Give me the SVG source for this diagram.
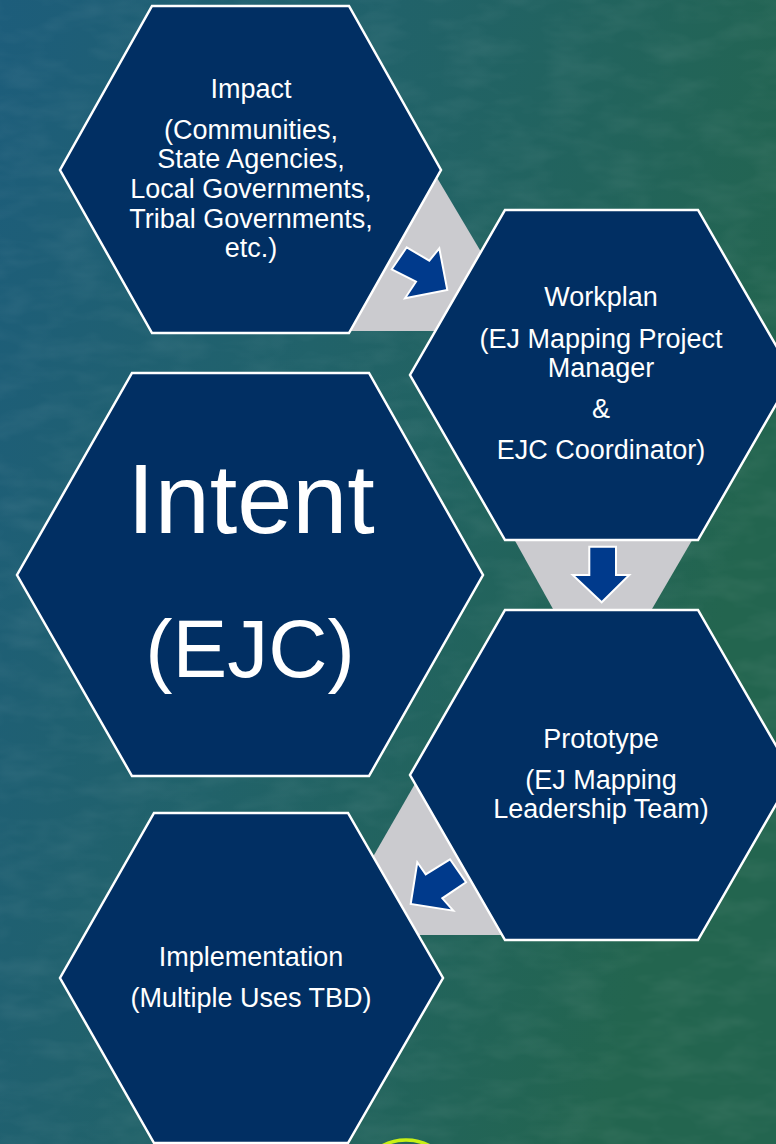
<svg xmlns="http://www.w3.org/2000/svg" width="776" height="1144" viewBox="0 0 776 1144">
  <defs>
    <linearGradient id="bg" x1="0" y1="0" x2="1" y2="0.35">
      <stop offset="0" stop-color="#1d5d7b"/>
      <stop offset="0.45" stop-color="#21626a"/>
      <stop offset="1" stop-color="#23654f"/>
    </linearGradient>
    <filter id="noise" x="0" y="0" width="1" height="1">
      <feTurbulence type="fractalNoise" baseFrequency="0.02 0.05" numOctaves="3" seed="4"/>
      <feColorMatrix type="matrix" values="0 0 0 0 1  0 0 0 0 1  0 0 0 0 1  0 0 0 0.9 -0.35"/>
    </filter>
    <style>
      .hex { fill: #012f63; stroke: #ffffff; stroke-width: 2.5; stroke-linejoin: miter; }
      .gray { fill: #cbcbcf; }
      .arrow { fill: #003a8c; stroke: #ffffff; stroke-width: 2; stroke-linejoin: miter; }
      .t { font-family: "Liberation Sans", Arial, sans-serif; fill: #ffffff; text-anchor: middle; font-size: 27px; }
      .big { font-family: "Liberation Sans", Arial, sans-serif; fill: #ffffff; text-anchor: middle; }
    </style>
  </defs>

  <rect x="0" y="0" width="776" height="1144" fill="url(#bg)"/>
  <rect x="0" y="0" width="776" height="1144" filter="url(#noise)" opacity="0.12"/>

  <g id="connectors">
    <polygon class="gray" points="436,176 346,331 528,331"/>
    <polygon class="gray" points="509,530 698,530 652,609 553,609"/>
    <polygon class="gray" points="416,782 328,935 506,935"/>
  </g>

  <g id="node-impact">
    <polygon class="hex" points="152,6 349,6 441,170 349,333 152,333 60,170"/>
    <text class="t" x="251" y="98">Impact</text>
    <text class="t" x="251" y="139">(Communities,</text>
    <text class="t" x="251" y="168">State Agencies,</text>
    <text class="t" x="251" y="198">Local Governments,</text>
    <text class="t" x="251" y="228">Tribal Governments,</text>
    <text class="t" x="251" y="257">etc.)</text>
  </g>

  <g id="node-workplan">
    <polygon class="hex" points="505,210 698,210 793,375 698,540 505,540 410,375"/>
    <text class="t" x="601" y="306">Workplan</text>
    <text class="t" x="601" y="348">(EJ Mapping Project</text>
    <text class="t" x="601" y="377">Manager</text>
    <text class="t" x="601" y="418">&amp;</text>
    <text class="t" x="601" y="459">EJC Coordinator)</text>
  </g>

  <g id="node-intent">
    <polygon class="hex" points="132,373 369,373 483,575 369,776 132,776 17,575"/>
    <text class="big" x="251" y="533" font-size="99">Intent</text>
    <text class="big" x="250" y="677" font-size="82">(EJC)</text>
  </g>

  <g id="node-prototype">
    <polygon class="hex" points="505,610 698,610 793,775 698,940 505,940 410,775"/>
    <text class="t" x="601" y="748">Prototype</text>
    <text class="t" x="601" y="789">(EJ Mapping</text>
    <text class="t" x="601" y="818">Leadership Team)</text>
  </g>

  <g id="node-implementation">
    <polygon class="hex" points="154,813 348,813 443,978 348,1143 154,1143 60,978"/>
    <text class="t" x="251" y="966">Implementation</text>
    <text class="t" x="251" y="1007">(Multiple Uses TBD)</text>
  </g>

  <g id="arrows">
    <polygon class="arrow" points="406.7,247.3 429.3,260.7 439.3,248.3 447.3,290 405,298.3 416,281.7 391.7,269.3"/>
    <polygon class="arrow" points="589.3,546.7 616,546.7 616,575 629.3,575 601.7,602.3 572.7,575 589.3,575"/>
    <polygon class="arrow" points="450,859.3 466,882.3 442.3,898.3 453.3,910.7 410.7,904 417.3,862.3 425.7,874.3"/>
  </g>

  <circle cx="406" cy="1190" r="50" fill="none" stroke="#c8f014" stroke-width="3.5"/>
</svg>
